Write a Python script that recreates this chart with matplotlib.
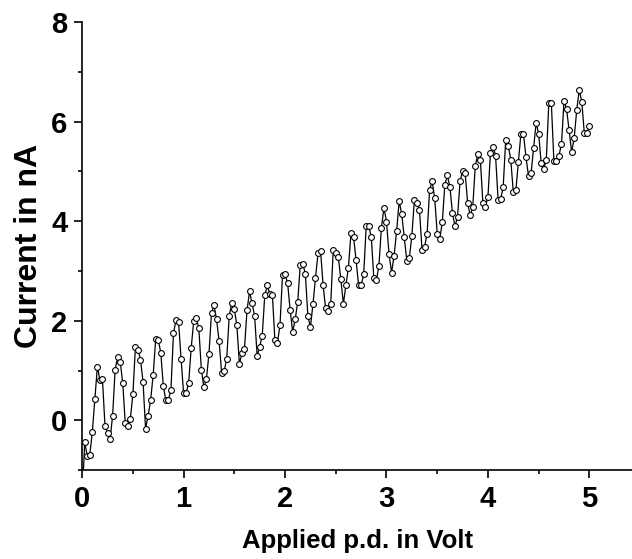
import numpy as np
import matplotlib.pyplot as plt
from matplotlib.ticker import MultipleLocator

plt.rcParams['font.family'] = ['Liberation Sans', 'DejaVu Sans']
plt.rcParams['font.weight'] = 'bold'

# Strom in nA, Messpunkte alle 0.025 V (erster Punkt liegt unterhalb der Achse)
current = [-1.6,
    -0.44, -0.71, -0.69, -0.24, 0.42, 1.08, 0.81, 0.83, -0.11, -0.25,
    -0.38, 0.09, 1.01, 1.28, 1.18, 0.75, -0.06, -0.11, 0.03, 0.52,
    1.48, 1.42, 1.22, 0.78, -0.17, 0.09, 0.41, 0.91, 1.63, 1.62,
    1.36, 0.69, 0.40, 0.41, 0.61, 1.75, 2.02, 1.98, 1.24, 0.54,
    0.54, 0.76, 1.46, 2.00, 2.06, 1.85, 1.02, 0.66, 0.83, 1.34,
    2.16, 2.31, 2.03, 1.59, 0.95, 0.99, 1.24, 2.10, 2.36, 2.23,
    1.91, 1.13, 1.35, 1.44, 2.21, 2.59, 2.35, 2.10, 1.29, 1.48,
    1.70, 2.51, 2.71, 2.54, 2.52, 1.61, 1.56, 1.91, 2.92, 2.93,
    2.76, 2.22, 1.78, 2.03, 2.38, 3.13, 3.15, 2.94, 2.10, 1.87,
    2.33, 2.86, 3.36, 3.41, 2.71, 2.25, 2.20, 2.33, 3.43, 3.37,
    3.28, 2.83, 2.34, 2.72, 3.07, 3.77, 3.69, 3.22, 2.71, 2.71,
    2.93, 3.90, 3.90, 3.69, 2.86, 2.81, 3.10, 3.87, 4.27, 3.99,
    3.34, 2.97, 3.31, 3.81, 4.41, 4.14, 3.68, 3.21, 3.26, 3.71,
    4.43, 4.37, 4.23, 3.43, 3.49, 3.74, 4.63, 4.80, 4.47, 3.75,
    3.65, 3.98, 4.73, 4.92, 4.69, 4.17, 3.90, 4.09, 4.80, 5.01,
    4.97, 4.37, 4.12, 4.28, 5.11, 5.35, 5.24, 4.37, 4.29, 4.49,
    5.38, 5.50, 5.32, 4.43, 4.45, 4.68, 5.63, 5.52, 5.24, 4.58,
    4.62, 5.19, 5.76, 5.76, 5.29, 4.90, 4.96, 5.48, 5.98, 5.75,
    5.16, 5.05, 5.23, 6.37, 6.37, 5.21, 5.21, 5.32, 5.55, 6.42,
    6.25, 5.83, 5.39, 5.67, 6.23, 6.64, 6.40, 5.77, 5.77, 5.91]
volt_step = 0.025
voltage = np.arange(len(current)) * volt_step

fig = plt.figure(figsize=(6.32, 5.59), dpi=100)
ax = fig.add_axes([0.13, 0.159, 0.87, 0.8014])

ax.plot(voltage, current, '-', color='black', lw=0.9,
        marker='o', ms=4.2, mfc='white', mec='black', mew=0.8)

ax.set_xlim(0, 5.42)
ax.set_ylim(-1, 8)
ax.xaxis.set_major_locator(MultipleLocator(1))
ax.xaxis.set_minor_locator(MultipleLocator(0.5))
ax.yaxis.set_major_locator(MultipleLocator(2))
ax.yaxis.set_minor_locator(MultipleLocator(1))

ax.spines['top'].set_visible(False)
ax.spines['right'].set_visible(False)
for s in ['left', 'bottom']:
    ax.spines[s].set_linewidth(1.2)
ax.tick_params(which='major', direction='out', length=6, width=1.2, labelsize=21, pad=4.5)
ax.tick_params(which='minor', direction='out', length=3, width=1.2)

ax.set_xlabel("Applied p.d. in Volt", fontsize=18.5, fontweight='bold', labelpad=12)
ax.set_ylabel("Current in nA", fontsize=23, fontweight='bold', labelpad=5)

plt.savefig("out.png", dpi=100)
